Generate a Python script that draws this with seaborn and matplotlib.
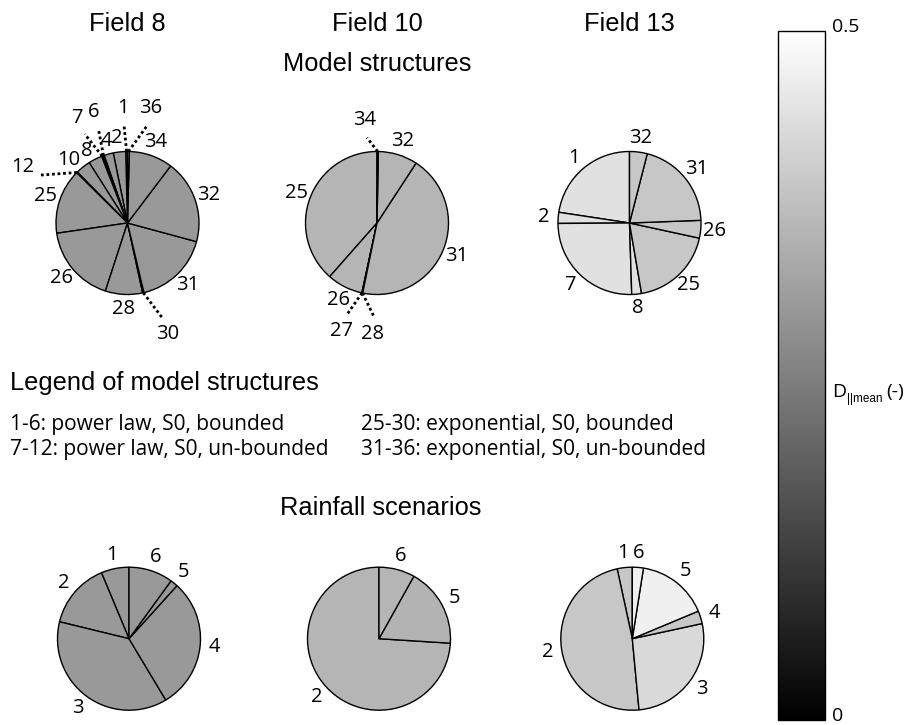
import numpy as np
import matplotlib
matplotlib.use("Agg")
import matplotlib.pyplot as plt
import matplotlib.transforms as mtransforms
from matplotlib.colors import Normalize
from matplotlib.cm import ScalarMappable
import seaborn as sns

# ---------------------------------------------------------------------------
# Data: share of each model structure / rainfall scenario (%) and its D||mean
# ---------------------------------------------------------------------------
fields = ["Field 8", "Field 10", "Field 13"]

ms_f8_labels = ["1", "2", "4", "6", "7", "8", "10", "12", "25", "26", "28", "30", "31", "32", "34", "36"]
ms_f8_share = [0.4, 2.8, 2.1, 0.3, 0.3, 3.1, 3.4, 0.2, 14.7, 17.7, 8.4, 0.3, 17.1, 18.9, 9.9, 0.4]
ms_f8_dmean = [0.30, 0.30, 0.30, 0.30, 0.30, 0.30, 0.30, 0.30, 0.30, 0.30, 0.30, 0.30, 0.30, 0.30, 0.30, 0.30]

ms_f10_labels = ["25", "26", "27", "28", "31", "32", "34"]
ms_f10_share = [38.5, 8.1, 0.1, 0.1, 44.0, 8.9, 0.3]
ms_f10_dmean = [0.355, 0.355, 0.355, 0.355, 0.355, 0.355, 0.355]

ms_f13_labels = ["1", "2", "7", "8", "25", "26", "31", "32"]
ms_f13_share = [22.6, 2.5, 25.4, 2.2, 18.9, 4.0, 20.4, 4.0]
ms_f13_dmean = [0.44, 0.44, 0.44, 0.44, 0.39, 0.39, 0.39, 0.39]

rs_f8_labels = ["1", "2", "3", "4", "5", "6"]
rs_f8_share = [6.3, 14.9, 37.4, 29.7, 1.7, 10.0]
rs_f8_dmean = [0.30, 0.30, 0.30, 0.30, 0.30, 0.30]

rs_f10_labels = ["2", "5", "6"]
rs_f10_share = [74.0, 17.9, 8.1]
rs_f10_dmean = [0.355, 0.35, 0.355]

rs_f13_labels = ["1", "2", "3", "4", "5", "6"]
rs_f13_share = [3.4, 48.1, 26.9, 2.9, 16.2, 2.5]
rs_f13_dmean = [0.39, 0.39, 0.425, 0.39, 0.47, 0.47]

legend_lines_left = ["1-6: power law, S0, bounded", "7-12: power law, S0, un-bounded"]
legend_lines_right = ["25-30: exponential, S0, bounded", "31-36: exponential, S0, un-bounded"]

# label placement tweaks: label -> (angle shift in degrees, radius, dotted leader)
f8_adjust = {"1": (1.3, 1.61, True), "36": (-10.7, 1.64, True), "6": (-2.4, 1.62, True),
             "7": (5.0, 1.63, True), "12": (16.7, 1.66, True), "30": (7.2, 1.65, True),
             "2": (0.5, 1.20, False), "4": (-0.8, 1.18, False),
             "8": (2.9, 1.16, False), "10": (4.5, 1.21, False)}
f10_adjust = {"34": (7.2, 1.45, True), "27": (-6.0, 1.59, True), "28": (9.6, 1.55, True)}

# ---------------------------------------------------------------------------
sns.set_theme(style="white")
plt.rcParams["font.family"] = ["Open Sans", "DejaVu Sans"]
plt.rcParams["text.color"] = "black"
plt.rcParams["axes.labelcolor"] = "black"
plt.rcParams["ytick.color"] = "black"
plt.rcParams["xtick.color"] = "black"

W, H = 910, 725
fig = plt.figure(figsize=(W / 100, H / 100), dpi=100)
fig.patch.set_facecolor("white")

cmap = sns.color_palette("gray", as_cmap=True)
norm = Normalize(vmin=0.0, vmax=0.5)

TITLE_FONT = dict(family=["Liberation Sans", "DejaVu Sans"], fontsize=18.3, color="black")
LABEL_FS = 14.5
R_PX = 71.5


def pie_axes(cx, cy, r=R_PX):
    return fig.add_axes([(cx - r) / W, (H - cy - r) / H, 2 * r / W, 2 * r / H])


def draw_pie(ax, labels, shares, dmean, adjust=None):
    adjust = adjust or {}
    wedges, _ = ax.pie(shares, colors=cmap(norm(np.asarray(dmean))), startangle=90,
                       counterclock=True, radius=1.0,
                       wedgeprops=dict(edgecolor="black", linewidth=1.0))
    for w, lab in zip(wedges, labels):
        mid = np.deg2rad(0.5 * (w.theta1 + w.theta2))
        dang, r, leader = adjust.get(lab, (0.0, 1.2, False))
        ang = mid + np.deg2rad(dang)
        if leader:
            ax.plot([np.cos(mid), (r - 0.25) * np.cos(ang)],
                    [np.sin(mid), (r - 0.25) * np.sin(ang)],
                    ls=(0, (1, 1)), lw=2.0, color="black", clip_on=False,
                    solid_capstyle="butt")
        ax.text(r * np.cos(ang), r * np.sin(ang), lab, ha="center", va="center",
                fontsize=LABEL_FS, color="black", clip_on=False)
    ax.set_xlim(-1, 1)
    ax.set_ylim(-1, 1)
    ax.set_aspect("equal")
    ax.axis("off")


# column headers and section titles
for x, name in zip([127.5, 377, 629.5], fields):
    fig.text(x / W, 1 - 24 / H, name, ha="center", va="center", **TITLE_FONT)
fig.text(377 / W, 1 - 64 / H, "Model structures", ha="center", va="center", **TITLE_FONT)
fig.text(10 / W, 1 - 383 / H, "Legend of model structures", ha="left", va="center", **TITLE_FONT)
fig.text(381 / W, 1 - 508 / H, "Rainfall scenarios", ha="center", va="center", **TITLE_FONT)

for i, (l, r) in enumerate(zip(legend_lines_left, legend_lines_right)):
    y = 1 - (425 + 25 * i) / H
    fig.text(10 / W, y, l, ha="left", va="center", fontsize=15)
    fig.text(361 / W, y, r, ha="left", va="center", fontsize=15)

# model structure pies
draw_pie(pie_axes(127.5, 223), ms_f8_labels, ms_f8_share, ms_f8_dmean, f8_adjust)
draw_pie(pie_axes(377, 223), ms_f10_labels, ms_f10_share, ms_f10_dmean, f10_adjust)
draw_pie(pie_axes(629.5, 223), ms_f13_labels, ms_f13_share, ms_f13_dmean)

# rainfall scenario pies
draw_pie(pie_axes(129, 638.7), rs_f8_labels, rs_f8_share, rs_f8_dmean)
draw_pie(pie_axes(379, 638.7), rs_f10_labels, rs_f10_share, rs_f10_dmean)
draw_pie(pie_axes(632.3, 638.7), rs_f13_labels, rs_f13_share, rs_f13_dmean)

# colour bar
cax = fig.add_axes([778 / W, 5 / H, 47 / W, 689 / H])
cb = fig.colorbar(ScalarMappable(norm=norm, cmap=cmap), cax=cax)
cb.set_ticks([0.0, 0.5])
cb.set_ticklabels(["0", "0.5"])
cax.tick_params(axis="y", length=0, pad=5, labelsize=14, labelcolor="black")
cb.outline.set_linewidth(1.0)
cb.outline.set_edgecolor("black")
shift = mtransforms.ScaledTranslation(0, 0.06, fig.dpi_scale_trans)
for t in cax.yaxis.get_major_ticks():
    t.label2.set_transform(t.label2.get_transform() + shift)
    t.label1.set_transform(t.label1.get_transform() + shift)

# colour bar label: D with a "||mean" subscript, then the unit
renderer = fig.canvas.get_renderer()
px = 1.0 / W
x_cur = 832 / W
y_lab = 1 - 392 / H
t_d = fig.text(x_cur, y_lab, "D", ha="left", va="center", fontsize=14)
x_cur = t_d.get_window_extent(renderer).x1 / W + 1 * px
t_sub = fig.text(x_cur, y_lab - 7 / H, "||mean", ha="left", va="center", fontsize=8.5,
                 family=["Liberation Sans", "DejaVu Sans"])
x_cur = t_sub.get_window_extent(renderer).x1 / W + 4 * px
fig.text(x_cur, y_lab, "(-)", ha="left", va="center", fontsize=14)

fig.savefig("out.png", dpi=100, facecolor="white")
